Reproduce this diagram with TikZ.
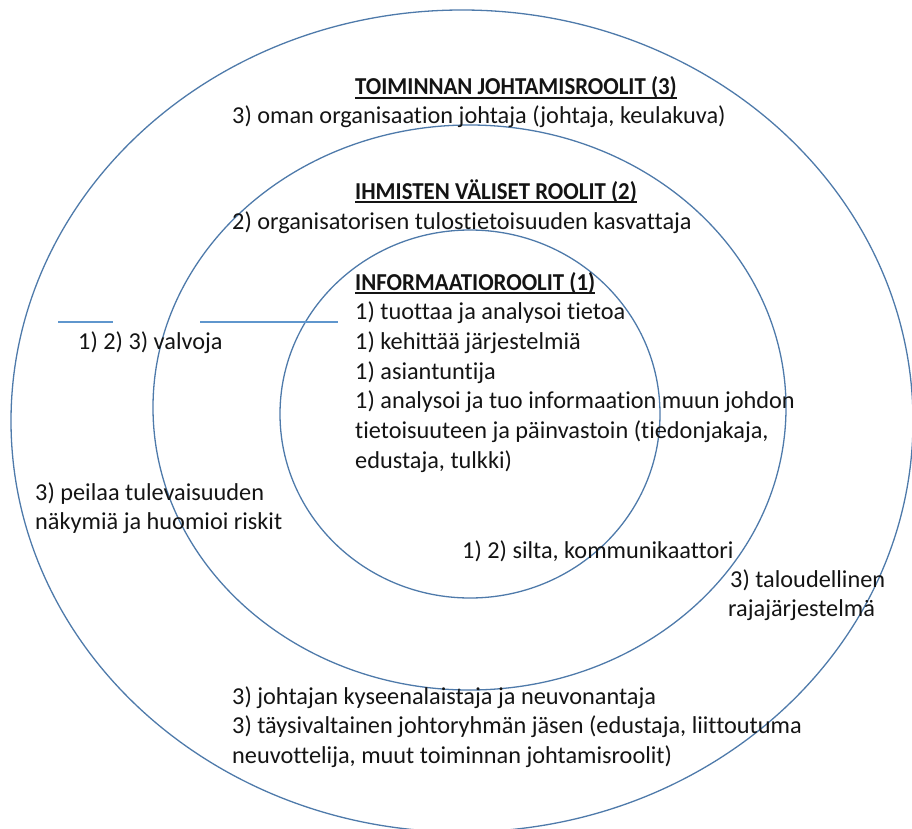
\documentclass[tikz,border=0pt]{standalone}
\usepackage{graphicx}
\usepackage{fontspec}
\setmainfont{Carlito}[Ligatures={NoCommon}]
\definecolor{ringblue}{RGB}{78,122,170}
\definecolor{tickblue}{RGB}{95,150,205}
\newcommand{\headtext}[1]{\scalebox{0.94}[1]{#1}}
\tikzset{
  ring/.style={draw=ringblue, line width=1.3pt},
  tick/.style={draw=tickblue, line width=1.3pt},
  txt/.style={anchor=base west, inner sep=0pt, font=\fontsize{24.3}{29.7}\selectfont, text=black!92},
  head/.style={txt, font=\fontsize{24.3}{29.7}\selectfont\bfseries},
  uline/.style={draw=black!92, line width=1.3pt}
}
\begin{document}
\begin{tikzpicture}[x=1pt, y=-1pt]
\useasboundingbox (0,0) rectangle (912,829);
\clip (0,0) rectangle (912,829);

% three nested role rings
\draw[ring] (462,421) ellipse [x radius=451pt, y radius=411pt];
\draw[ring] (469.5,407.5) ellipse [x radius=316.5pt, y radius=282.5pt];
\draw[ring] (470,414) ellipse [x radius=190pt, y radius=184pt];

% outer ring: operational management roles
\node[head] (h3) at (355,95) {\headtext{TOIMINNAN JOHTAMISROOLIT (3)}};
\draw[uline] ([yshift=-3pt]h3.base west) -- ([yshift=-3pt]h3.base east);
\node[txt] (o1) at (232,124) {3) oman organisaation johtaja (johtaja, keulakuva)};

% middle ring: interpersonal roles
\node[head] (h2) at (355,199) {\headtext{IHMISTEN VÄLISET ROOLIT (2)}};
\draw[uline] ([yshift=-3pt]h2.base west) -- ([yshift=-3pt]h2.base east);
\node[txt] (m1) at (232,229) {2) organisatorisen tulostietoisuuden kasvattaja};

% inner ring: informational roles
\node[head] (h1) at (355,290) {\headtext{INFORMAATIOROOLIT (1)}};
\draw[uline] ([yshift=-3pt]h1.base west) -- ([yshift=-3pt]h1.base east);
\node[txt] (i1) at (355,319.7) {1) tuottaa ja analysoi tietoa};
\node[txt] (i2) at (355,349.4) {1) kehittää järjestelmiä};
\node[txt] (i3) at (355,379.1) {1) asiantuntija};
\node[txt] (i4) at (355,408.8) {1) analysoi ja tuo informaation muun johdon};
\node[txt] (i5) at (355,438.5) {tietoisuuteen ja päinvastoin (tiedonjakaja,};
\node[txt] (i6) at (355,468.2) {edustaja, tulkki)};

% roles spanning several rings
\coordinate (ta) at (58,322);
\coordinate (tb) at (113,322);
\coordinate (tc) at (200,322);
\coordinate (td) at (338,322);
\draw[tick] (ta) -- (tb);
\draw[tick] (tc) -- (td);
\node[txt] (v1) at (78,349) {1) 2) 3) valvoja};

\node[txt] (p1) at (35,500) {3) peilaa tulevaisuuden};
\node[txt] (p2) at (35,529.7) {näkymiä ja huomioi riskit};

\node[txt] (s1) at (462,558) {1) 2) silta, kommunikaattori};

\node[txt] (t1) at (730,587) {3) taloudellinen};
\node[txt] (t2) at (728,616.7) {rajajärjestelmä};

\node[txt] (b1) at (232,704) {3) johtajan kyseenalaistaja ja neuvonantaja};
\node[txt] (b2) at (232,733.7) {3) täysivaltainen johtoryhmän jäsen (edustaja, liittoutuma};
\node[txt] (b3) at (232,763.4) {neuvottelija, muut toiminnan johtamisroolit)};
\end{tikzpicture}
\end{document}
